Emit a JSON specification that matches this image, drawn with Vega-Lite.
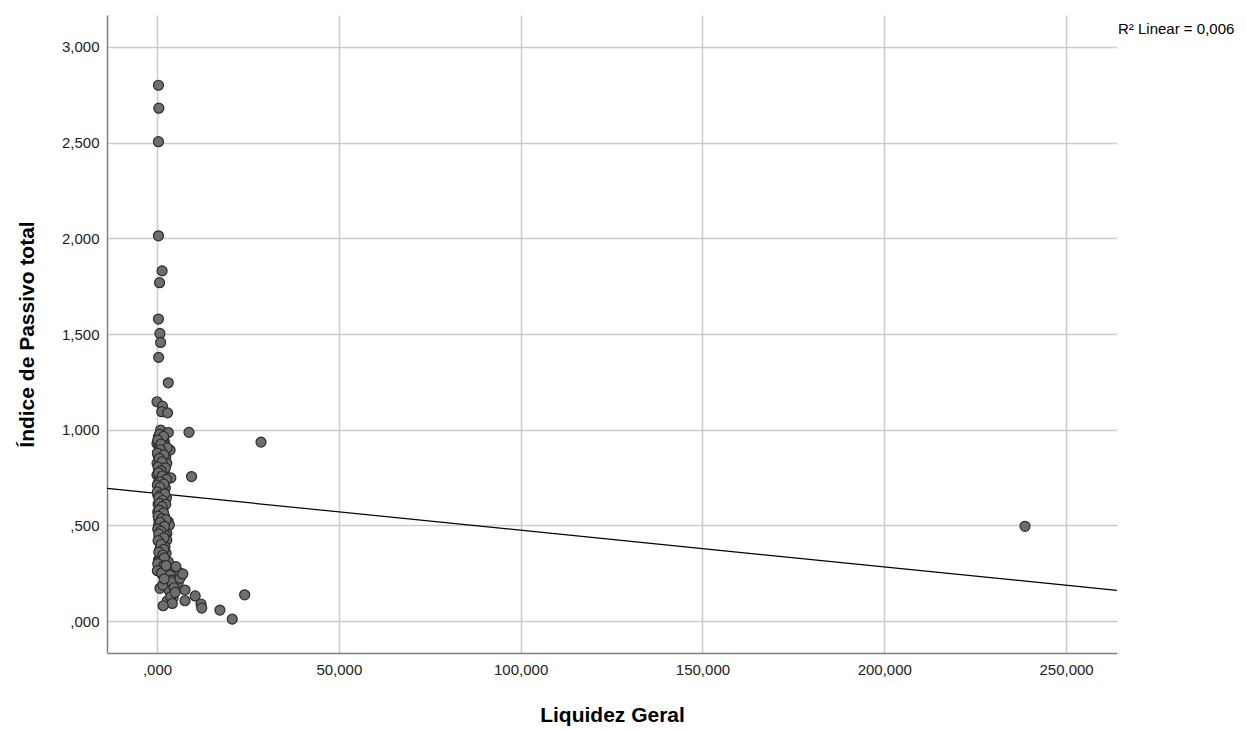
{
  "$schema": "https://vega.github.io/schema/vega-lite/v6.json",
  "width": 1010,
  "height": 638,
  "autosize": {"type": "none"},
  "padding": {"left": 107, "top": 15, "right": 129, "bottom": 76},
  "background": "white",
  "config": {
    "view": {"stroke": null},
    "font": "Liberation Sans",
    "axis": {
      "labelFont": "Liberation Sans",
      "titleFont": "Liberation Sans",
      "labelFontSize": 15,
      "labelColor": "#222222",
      "titleFontSize": 21,
      "titleFontWeight": "bold",
      "titleColor": "#000000",
      "ticks": false,
      "domainColor": "#808080",
      "domainWidth": 1.5,
      "gridColor": "#cccccc",
      "gridWidth": 1.5,
      "gridOpacity": 1
    }
  },
  "datasets": {
    "pts": [
      {"lg": 0.4, "ip": 2.80}, {"lg": 0.5, "ip": 2.68}, {"lg": 0.4, "ip": 2.505}, {"lg": 0.4, "ip": 2.013},
      {"lg": 1.4, "ip": 1.83}, {"lg": 0.7, "ip": 1.768}, {"lg": 0.4, "ip": 1.578}, {"lg": 0.8, "ip": 1.503},
      {"lg": 1.0, "ip": 1.456}, {"lg": 0.45, "ip": 1.378}, {"lg": 3.1, "ip": 1.245}, {"lg": 0.0, "ip": 1.146},
      {"lg": 1.5, "ip": 1.123}, {"lg": 1.3, "ip": 1.094}, {"lg": 2.9, "ip": 1.088},
      {"lg": 1.0, "ip": 0.998}, {"lg": 3.1, "ip": 0.985}, {"lg": 8.8, "ip": 0.986}, {"lg": 0.4, "ip": 0.963},
      {"lg": 1.2, "ip": 0.95}, {"lg": 2.0, "ip": 0.94}, {"lg": 28.6, "ip": 0.935}, {"lg": 0.0, "ip": 0.928},
      {"lg": 0.6, "ip": 0.91}, {"lg": 2.2, "ip": 0.918}, {"lg": 3.6, "ip": 0.893}, {"lg": 1.5, "ip": 0.88},
      {"lg": 0.3, "ip": 0.865}, {"lg": 2.4, "ip": 0.855}, {"lg": 1.0, "ip": 0.84}, {"lg": 0.0, "ip": 0.824},
      {"lg": 2.7, "ip": 0.824}, {"lg": 1.6, "ip": 0.81}, {"lg": 0.5, "ip": 0.795}, {"lg": 2.0, "ip": 0.78},
      {"lg": 0.9, "ip": 0.77}, {"lg": 0.0, "ip": 0.763}, {"lg": 9.5, "ip": 0.755}, {"lg": 3.8, "ip": 0.748},
      {"lg": 0.6, "ip": 0.752}, {"lg": 1.8, "ip": 0.735}, {"lg": 0.3, "ip": 0.72}, {"lg": 1.2, "ip": 0.705},
      {"lg": 2.3, "ip": 0.695}, {"lg": 0.5, "ip": 0.685}, {"lg": 1.5, "ip": 0.67}, {"lg": 0.2, "ip": 0.66},
      {"lg": 1.7, "ip": 0.658}, {"lg": 2.6, "ip": 0.645}, {"lg": 0.8, "ip": 0.635}, {"lg": 1.2, "ip": 0.62},
      {"lg": 0.3, "ip": 0.61}, {"lg": 1.9, "ip": 0.60}, {"lg": 0.9, "ip": 0.59}, {"lg": 1.3, "ip": 0.584},
      {"lg": 0.2, "ip": 0.57}, {"lg": 1.0, "ip": 0.554}, {"lg": 2.1, "ip": 0.545}, {"lg": 0.5, "ip": 0.53},
      {"lg": 1.7, "ip": 0.519}, {"lg": 3.1, "ip": 0.519}, {"lg": 0.4, "ip": 0.50}, {"lg": 3.4, "ip": 0.502},
      {"lg": 1.2, "ip": 0.49}, {"lg": 2.7, "ip": 0.458}, {"lg": 1.7, "ip": 0.467}, {"lg": 0.6, "ip": 0.44},
      {"lg": 2.2, "ip": 0.45}, {"lg": 2.7, "ip": 0.423}, {"lg": 1.5, "ip": 0.41}, {"lg": 2.2, "ip": 0.388},
      {"lg": 0.8, "ip": 0.375}, {"lg": 2.5, "ip": 0.354}, {"lg": 1.3, "ip": 0.328}, {"lg": 0.4, "ip": 0.319},
      {"lg": 2.8, "ip": 0.31}, {"lg": 3.1, "ip": 0.31}, {"lg": 0.8, "ip": 0.319},
      {"lg": 0.7, "ip": 0.975}, {"lg": 1.8, "ip": 0.965}, {"lg": 0.2, "ip": 0.945}, {"lg": 1.1, "ip": 0.925},
      {"lg": 2.8, "ip": 0.905}, {"lg": 0.9, "ip": 0.895}, {"lg": 0.1, "ip": 0.878}, {"lg": 1.9, "ip": 0.868},
      {"lg": 0.6, "ip": 0.85}, {"lg": 1.4, "ip": 0.832}, {"lg": 0.3, "ip": 0.805}, {"lg": 2.3, "ip": 0.8},
      {"lg": 1.1, "ip": 0.785}, {"lg": 0.4, "ip": 0.775}, {"lg": 1.4, "ip": 0.758}, {"lg": 2.6, "ip": 0.74},
      {"lg": 0.9, "ip": 0.728}, {"lg": 0.1, "ip": 0.71}, {"lg": 1.9, "ip": 0.715}, {"lg": 0.8, "ip": 0.698},
      {"lg": 0.1, "ip": 0.675}, {"lg": 1.1, "ip": 0.66}, {"lg": 2.1, "ip": 0.665}, {"lg": 0.5, "ip": 0.645},
      {"lg": 1.6, "ip": 0.63}, {"lg": 0.7, "ip": 0.615}, {"lg": 2.4, "ip": 0.61}, {"lg": 1.4, "ip": 0.598},
      {"lg": 0.6, "ip": 0.58}, {"lg": 1.8, "ip": 0.565}, {"lg": 0.3, "ip": 0.548}, {"lg": 1.4, "ip": 0.535},
      {"lg": 2.5, "ip": 0.53}, {"lg": 0.9, "ip": 0.515}, {"lg": 2.0, "ip": 0.495}, {"lg": 0.2, "ip": 0.48},
      {"lg": 1.0, "ip": 0.47}, {"lg": 0.5, "ip": 0.455}, {"lg": 1.9, "ip": 0.435}, {"lg": 0.3, "ip": 0.42},
      {"lg": 1.1, "ip": 0.4}, {"lg": 1.9, "ip": 0.375}, {"lg": 0.5, "ip": 0.36}, {"lg": 1.6, "ip": 0.345},
      {"lg": 2.0, "ip": 0.33}, {"lg": 0.2, "ip": 0.3}, {"lg": 1.9, "ip": 0.29}, {"lg": 4.5, "ip": 0.265},
      {"lg": 3.0, "ip": 0.27}, {"lg": 5.8, "ip": 0.2}, {"lg": 2.6, "ip": 0.185}, {"lg": 3.4, "ip": 0.16},
      {"lg": 6.0, "ip": 0.255}, {"lg": 4.4, "ip": 0.12}, {"lg": 2.8, "ip": 0.105},
      {"lg": 0.1, "ip": 0.263}, {"lg": 1.4, "ip": 0.246}, {"lg": 1.3, "ip": 0.252}, {"lg": 3.6, "ip": 0.232},
      {"lg": 3.6, "ip": 0.240}, {"lg": 4.0, "ip": 0.214}, {"lg": 3.9, "ip": 0.205}, {"lg": 6.3, "ip": 0.223},
      {"lg": 7.1, "ip": 0.246}, {"lg": 5.2, "ip": 0.284}, {"lg": 0.8, "ip": 0.171}, {"lg": 1.6, "ip": 0.188},
      {"lg": 4.7, "ip": 0.174}, {"lg": 3.8, "ip": 0.127}, {"lg": 4.2, "ip": 0.092}, {"lg": 1.7, "ip": 0.080},
      {"lg": 7.7, "ip": 0.162}, {"lg": 7.7, "ip": 0.106}, {"lg": 10.5, "ip": 0.131}, {"lg": 12.1, "ip": 0.089},
      {"lg": 12.3, "ip": 0.068}, {"lg": 17.3, "ip": 0.057}, {"lg": 20.7, "ip": 0.010}, {"lg": 24.1, "ip": 0.137},
      {"lg": 2.5, "ip": 0.29}, {"lg": 2.0, "ip": 0.22}, {"lg": 5.0, "ip": 0.15},
      {"lg": 238.7, "ip": 0.495}
    ],
    "fit": [
      {"lg": -13.75, "ip": 0.693},
      {"lg": 264, "ip": 0.160}
    ],
    "note": [
      {"lg": 264, "ip": 3.094, "label": "R² Linear = 0,006"}
    ]
  },
  "encoding": {
    "x": {
      "field": "lg", "type": "quantitative",
      "scale": {"domain": [-13.75, 264], "nice": false, "zero": false},
      "axis": {
        "title": "Liquidez Geral",
        "values": [0, 50, 100, 150, 200, 250],
        "labelPadding": 9,
        "titlePadding": 27,
        "labelExpr": "datum.value == 0 ? ',000' : replace(format(datum.value, '.3f'), '.', ',')"
      }
    },
    "y": {
      "field": "ip", "type": "quantitative",
      "scale": {"domain": [-0.167, 3.167], "nice": false, "zero": false},
      "axis": {
        "title": "Índice de Passivo total",
        "values": [0, 0.5, 1, 1.5, 2, 2.5, 3],
        "labelPadding": 8,
        "titlePadding": 24,
        "labelExpr": "datum.value < 1 ? ',' + substring(format(datum.value, '.3f'), 2) : replace(format(datum.value, '.3f'), '.', ',')"
      }
    }
  },
  "layer": [
    {
      "data": {"name": "fit"},
      "mark": {"type": "line", "color": "#000000", "strokeWidth": 1.2, "clip": true}
    },
    {
      "data": {"name": "pts"},
      "mark": {"type": "point", "shape": "circle", "filled": true, "fill": "#6e6e6e", "stroke": "#2b2b2b", "strokeWidth": 1.2, "size": 100, "opacity": 1, "fillOpacity": 1}
    },
    {
      "data": {"name": "note"},
      "mark": {"type": "text", "align": "left", "baseline": "middle", "fontSize": 15, "color": "#000000", "font": "Liberation Sans", "dx": 1},
      "encoding": {"text": {"field": "label"}}
    }
  ]
}
